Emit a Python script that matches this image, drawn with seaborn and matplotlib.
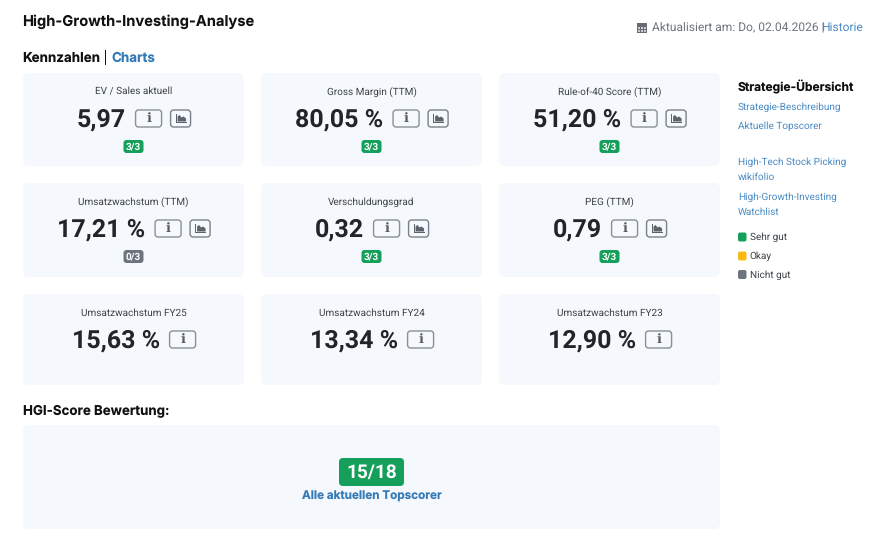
import matplotlib
matplotlib.use("Agg")
import matplotlib.pyplot as plt
from matplotlib.patches import FancyBboxPatch, Rectangle
import seaborn as sns

sns.set_theme(style="white")
plt.rcParams['font.family'] = ['Roboto', 'DejaVu Sans']
plt.rcParams['text.hinting'] = 'no_hinting'
plt.rcParams['text.hinting_factor'] = 1

# card contents
labels = ["EV / Sales aktuell", "Gross Margin (TTM)", "Rule-of-40 Score (TTM)",
          "Umsatzwachstum (TTM)", "Verschuldungsgrad", "PEG (TTM)",
          "Umsatzwachstum FY25", "Umsatzwachstum FY24", "Umsatzwachstum FY23"]
values = ["5,97", "80,05 %", "51,20 %",
          "17,21 %", "0,32", "0,79",
          "15,63 %", "13,34 %", "12,90 %"]
badges = ["3/3", "3/3", "3/3", "0/3", "3/3", "3/3", None, None, None]
side_links = ["Strategie-Beschreibung", "Aktuelle Topscorer", "High-Tech Stock Picking",
              "wikifolio", "High-Growth-Investing", "Watchlist"]
legend_names = ["Sehr gut", "Okay", "Nicht gut"]

GREEN = "#14a05a"
GREY = "#6c757d"
YELLOW = "#fdb913"
BLUE = "#337ab7"
LINK = "#4a8ac4"
CARD = "#f5f8fc"
DARK = "#212529"
legend_colors = [GREEN, YELLOW, GREY]

fig = plt.figure(figsize=(8.84, 5.33), dpi=100)
ax = fig.add_axes([0, 0, 1, 1])
ax.set_xlim(0, 884)
ax.set_ylim(533, 0)
ax.axis("off")


def box(x0, y0, x1, y1, r, face, edge="none", lw=0, z=1):
    p = FancyBboxPatch((x0 + r, y0 + r), x1 - x0 - 2 * r, y1 - y0 - 2 * r,
                       boxstyle=f"round,pad={r},rounding_size={r}",
                       fc=face, ec=edge, lw=lw, zorder=z)
    ax.add_patch(p)


def px(size):
    return size * 0.72


def chart_icon(x0, y0):
    box(x0, y0, x0 + 20, y0 + 17, 3, "#f5f8fc", "#7b8188", 1.0, 2)
    ic = "#5c636a"
    ax.add_patch(Rectangle((x0 + 5, y0 + 4), 1.2, 9, fc=ic, ec="none", zorder=3))
    ax.add_patch(Rectangle((x0 + 5, y0 + 11.5), 11, 1.6, fc=ic, ec="none", zorder=3))
    ax.fill([x0 + 7, x0 + 7, x0 + 9, x0 + 11, x0 + 13, x0 + 15.5, x0 + 15.5],
            [y0 + 11.5, y0 + 6.5, y0 + 5, y0 + 7.5, y0 + 6.5, y0 + 8.5, y0 + 11.5],
            fc=ic, ec="none", zorder=3)


def info_icon(x0, y0):
    box(x0, y0, x0 + 26, y0 + 17, 3, "#f5f8fc", "#8a9097", 1.0, 2)
    ax.text(x0 + 13, y0 + 8.8, "i", family="DejaVu Serif", weight="bold", fontsize=px(13), color="#555b61",
            ha="center", va="center", zorder=3)


# headings
ax.text(22.5, 21.5, "High-Growth-Investing-Analyse", family="Inter", weight="bold",
        fontsize=px(14.7), color="#111111", va="center")
ax.text(22.5, 58, "Kennzahlen", family="Inter", weight="bold", fontsize=px(13.4), color="#111111", va="center")
ax.add_patch(Rectangle((104.5, 50), 1.8, 15, fc="#111111", ec="none"))
ax.text(111.5, 58, "Charts", family="Inter", weight="bold", fontsize=px(13.4), color=BLUE, va="center")
ax.text(23, 411, "HGI-Score Bewertung:", family="Inter", weight="bold", fontsize=px(13.3), color="#111111", va="center")

# calendar icon + date line
ax.add_patch(Rectangle((637, 22.5), 10, 10.5, fc="#666c72", ec="none"))
ax.add_patch(Rectangle((638, 26.5), 8, 5.5, fc="#c9ccd0", ec="none", zorder=2))
for xx in (640, 643):
    ax.add_patch(Rectangle((xx, 26.5), 0.8, 5.5, fc="#666c72", ec="none", zorder=3))
ax.add_patch(Rectangle((638, 28.8), 8, 0.8, fc="#666c72", ec="none", zorder=3))
ax.text(652, 27.5, "Aktualisiert am: Do, 02.04.2026 |", fontsize=px(11.7), color="#6c757d", va="center")
ax.text(863, 27.5, "Historie", fontsize=px(11.8), color=LINK, va="center", ha="right")

# card grid
col_x = [23, 261, 499]
row_y = [(73, 166), (183, 277), (294, 385)]
renderer = fig.canvas.get_renderer()

for i, (lab, val, bad) in enumerate(zip(labels, values, badges)):
    x0 = col_x[i % 3]
    y0, y1 = row_y[i // 3]
    x1 = x0 + 221
    box(x0, y0, x1, y1, 6, CARD)
    cx = (x0 + x1) / 2
    ax.text(cx, y0 + 19, lab, fontsize=px(10.5), color="#3d4349", ha="center", va="center")

    t = ax.text(0, y0 + 46.5, val, fontsize=px(25), weight="bold", color=DARK, va="center", zorder=3)
    w = t.get_window_extent(renderer).width
    has_chart = bad is not None
    total = w + 10 + 26 + (9 + 20 if has_chart else 0)
    left = cx - total / 2
    t.set_x(left + 0.5)
    info_icon(left + w + 10, y0 + 37)
    if has_chart:
        chart_icon(left + w + 45, y0 + 37)
        box(cx - 10, y0 + 67, cx + 10, y0 + 80, 3, GREEN if bad == "3/3" else GREY, z=2)
        ax.text(cx, y0 + 73.7, bad, fontsize=px(10), weight="bold", color="white",
                ha="center", va="center", zorder=3)

# score card
box(23, 425, 720, 529, 6, CARD)
box(339, 458, 404, 486, 4, GREEN, z=2)
ax.text(371.5, 472.5, "15/18", fontsize=px(19.5), weight="bold", color="white", ha="center", va="center", zorder=3)
ax.text(371.5, 496, "Alle aktuellen Topscorer", family="Inter", weight="bold", fontsize=px(11.7),
        color=BLUE, ha="center", va="center", zorder=3)

# side column
ax.text(738, 86.5, "Strategie-Übersicht", family="Inter", weight="bold", fontsize=px(12),
        color="#111111", va="center")
link_y = [107.5, 126.5, 162.5, 177.5, 197.5, 212.5]
for name, yy in zip(side_links, link_y):
    ax.text(738, yy, name, fontsize=px(10.5), color=LINK, va="center")
leg_y = [237, 256, 274.5]
for name, col, yy in zip(legend_names, legend_colors, leg_y):
    box(738, yy - 4.5, 746.5, yy + 4.5, 2, col)
    ax.text(749.5, yy + 0.5, name, fontsize=px(10.5), color="#3d4349", va="center")

sns.despine(ax=ax, left=True, bottom=True)
fig.savefig("out.png", dpi=100, facecolor="white")
